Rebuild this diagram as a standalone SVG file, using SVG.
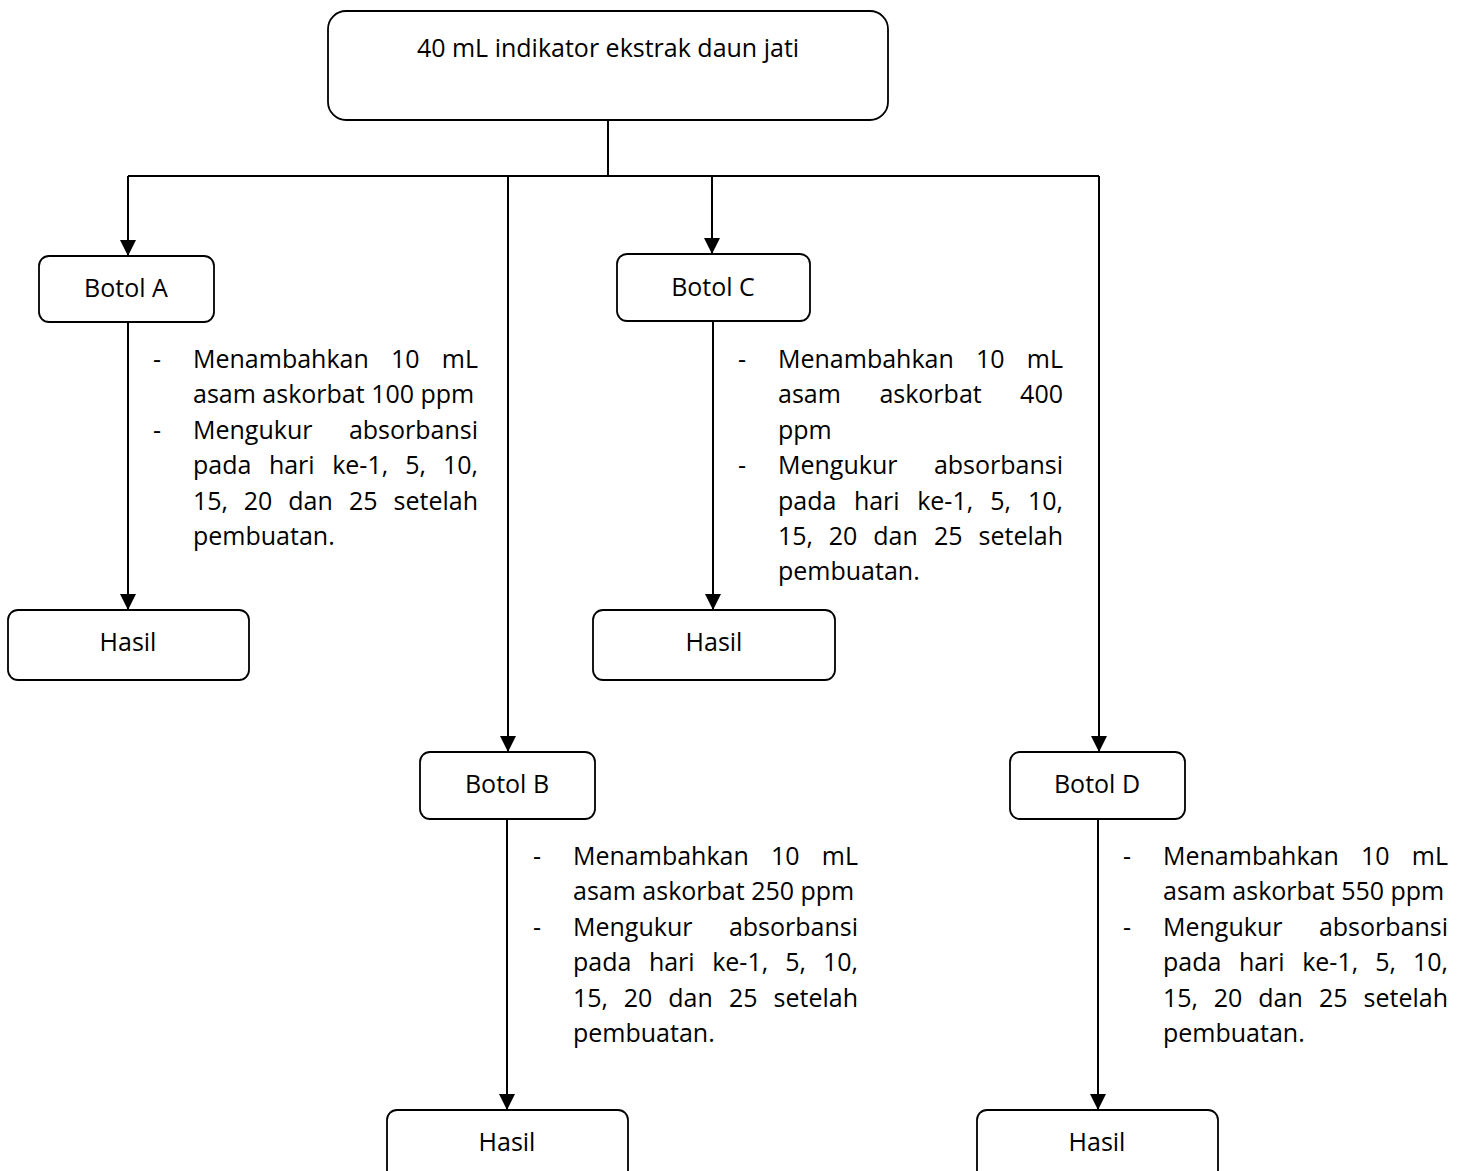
<svg xmlns="http://www.w3.org/2000/svg" width="1470" height="1171" viewBox="0 0 1470 1171">
<style>
.box{fill:#fff;stroke:#000;stroke-width:1.8}
.ln{fill:none;stroke:#000;stroke-width:2}
.t{font-family:"Open Sans","Liberation Sans",sans-serif;font-size:25px;fill:#000}
.c{text-anchor:middle}
.e{text-anchor:end}
</style>
<defs>
<marker id="ah" markerUnits="userSpaceOnUse" markerWidth="16" markerHeight="16" viewBox="0 0 15 15" refX="15" refY="7.5" orient="auto">
<path d="M0,0 L15,7.5 L0,15 z" fill="#000"/>
</marker>
</defs>
<rect width="1470" height="1171" fill="#fff"/>
<g id="connectors">
<path class="ln" d="M608,120 V176"/>
<path class="ln" d="M128,176 H1099"/>
<path class="ln" d="M128,176 V256" marker-end="url(#ah)"/>
<path class="ln" d="M508,176 V752" marker-end="url(#ah)"/>
<path class="ln" d="M712,176 V254" marker-end="url(#ah)"/>
<path class="ln" d="M1099,176 V752" marker-end="url(#ah)"/>
<path class="ln" d="M128,322 V610" marker-end="url(#ah)"/>
<path class="ln" d="M713,321 V610" marker-end="url(#ah)"/>
<path class="ln" d="M507,819 V1110" marker-end="url(#ah)"/>
<path class="ln" d="M1098,819 V1110" marker-end="url(#ah)"/>
</g>
<g id="start">
<rect class="box" x="328" y="11" width="560" height="109" rx="18"/>
<text class="t c" x="608" y="57">40 mL indikator ekstrak daun jati</text>
</g>
<g id="botolA">
<rect class="box" x="39" y="256" width="175" height="66" rx="10"/>
<text class="t c" x="126" y="297">Botol A</text>
</g>
<g id="botolC">
<rect class="box" x="617" y="254" width="193" height="67" rx="10"/>
<text class="t c" x="713" y="296">Botol C</text>
</g>
<g id="botolB">
<rect class="box" x="420" y="752" width="175" height="67" rx="10"/>
<text class="t c" x="507" y="793">Botol B</text>
</g>
<g id="botolD">
<rect class="box" x="1010" y="752" width="175" height="67" rx="10"/>
<text class="t c" x="1097" y="793">Botol D</text>
</g>
<g id="hasilA">
<rect class="box" x="8" y="610" width="241" height="70" rx="10"/>
<text class="t c" x="128" y="651">Hasil</text>
</g>
<g id="hasilC">
<rect class="box" x="593" y="610" width="242" height="70" rx="10"/>
<text class="t c" x="714" y="651">Hasil</text>
</g>
<g id="hasilB">
<rect class="box" x="387" y="1110" width="241" height="90" rx="10"/>
<text class="t c" x="507" y="1151">Hasil</text>
</g>
<g id="hasilD">
<rect class="box" x="977" y="1110" width="241" height="90" rx="10"/>
<text class="t c" x="1097" y="1151">Hasil</text>
</g>
<g id="noteA">
<text class="t" x="153" y="368">-</text>
<text class="t" x="193" y="368">Menambahkan</text>
<text class="t" x="391" y="368">10</text>
<text class="t e" x="478" y="368">mL</text>
<text class="t" x="193" y="403.4">asam askorbat 100 ppm</text>
<text class="t" x="153" y="438.8">-</text>
<text class="t" x="193" y="438.8">Mengukur</text>
<text class="t e" x="478" y="438.8">absorbansi</text>
<text class="t" x="193" y="474.2">pada</text>
<text class="t" x="268.9" y="474.2">hari</text>
<text class="t" x="332.2" y="474.2">ke-1,</text>
<text class="t" x="405.3" y="474.2">5,</text>
<text class="t e" x="478" y="474.2">10,</text>
<text class="t" x="193" y="509.6">15,</text>
<text class="t" x="243.7" y="509.6">20</text>
<text class="t" x="288.3" y="509.6">dan</text>
<text class="t" x="348.9" y="509.6">25</text>
<text class="t e" x="478" y="509.6">setelah</text>
<text class="t" x="193" y="545">pembuatan.</text>
</g>
<g id="noteC">
<text class="t" x="738" y="368">-</text>
<text class="t" x="778" y="368">Menambahkan</text>
<text class="t" x="976" y="368">10</text>
<text class="t e" x="1063" y="368">mL</text>
<text class="t" x="778" y="403.4">asam</text>
<text class="t" x="879.4" y="403.4">askorbat</text>
<text class="t e" x="1063" y="403.4">400</text>
<text class="t" x="778" y="438.8">ppm</text>
<text class="t" x="738" y="474.2">-</text>
<text class="t" x="778" y="474.2">Mengukur</text>
<text class="t e" x="1063" y="474.2">absorbansi</text>
<text class="t" x="778" y="509.6">pada</text>
<text class="t" x="853.9" y="509.6">hari</text>
<text class="t" x="917.2" y="509.6">ke-1,</text>
<text class="t" x="990.3" y="509.6">5,</text>
<text class="t e" x="1063" y="509.6">10,</text>
<text class="t" x="778" y="545">15,</text>
<text class="t" x="828.7" y="545">20</text>
<text class="t" x="873.3" y="545">dan</text>
<text class="t" x="933.9" y="545">25</text>
<text class="t e" x="1063" y="545">setelah</text>
<text class="t" x="778" y="580.4">pembuatan.</text>
</g>
<g id="noteB">
<text class="t" x="533" y="865">-</text>
<text class="t" x="573" y="865">Menambahkan</text>
<text class="t" x="771" y="865">10</text>
<text class="t e" x="858" y="865">mL</text>
<text class="t" x="573" y="900.4">asam askorbat 250 ppm</text>
<text class="t" x="533" y="935.8">-</text>
<text class="t" x="573" y="935.8">Mengukur</text>
<text class="t e" x="858" y="935.8">absorbansi</text>
<text class="t" x="573" y="971.2">pada</text>
<text class="t" x="648.9" y="971.2">hari</text>
<text class="t" x="712.2" y="971.2">ke-1,</text>
<text class="t" x="785.3" y="971.2">5,</text>
<text class="t e" x="858" y="971.2">10,</text>
<text class="t" x="573" y="1006.6">15,</text>
<text class="t" x="623.7" y="1006.6">20</text>
<text class="t" x="668.3" y="1006.6">dan</text>
<text class="t" x="728.9" y="1006.6">25</text>
<text class="t e" x="858" y="1006.6">setelah</text>
<text class="t" x="573" y="1042">pembuatan.</text>
</g>
<g id="noteD">
<text class="t" x="1123" y="865">-</text>
<text class="t" x="1163" y="865">Menambahkan</text>
<text class="t" x="1361" y="865">10</text>
<text class="t e" x="1448" y="865">mL</text>
<text class="t" x="1163" y="900.4">asam askorbat 550 ppm</text>
<text class="t" x="1123" y="935.8">-</text>
<text class="t" x="1163" y="935.8">Mengukur</text>
<text class="t e" x="1448" y="935.8">absorbansi</text>
<text class="t" x="1163" y="971.2">pada</text>
<text class="t" x="1238.9" y="971.2">hari</text>
<text class="t" x="1302.2" y="971.2">ke-1,</text>
<text class="t" x="1375.3" y="971.2">5,</text>
<text class="t e" x="1448" y="971.2">10,</text>
<text class="t" x="1163" y="1006.6">15,</text>
<text class="t" x="1213.7" y="1006.6">20</text>
<text class="t" x="1258.3" y="1006.6">dan</text>
<text class="t" x="1318.9" y="1006.6">25</text>
<text class="t e" x="1448" y="1006.6">setelah</text>
<text class="t" x="1163" y="1042">pembuatan.</text>
</g>
</svg>
